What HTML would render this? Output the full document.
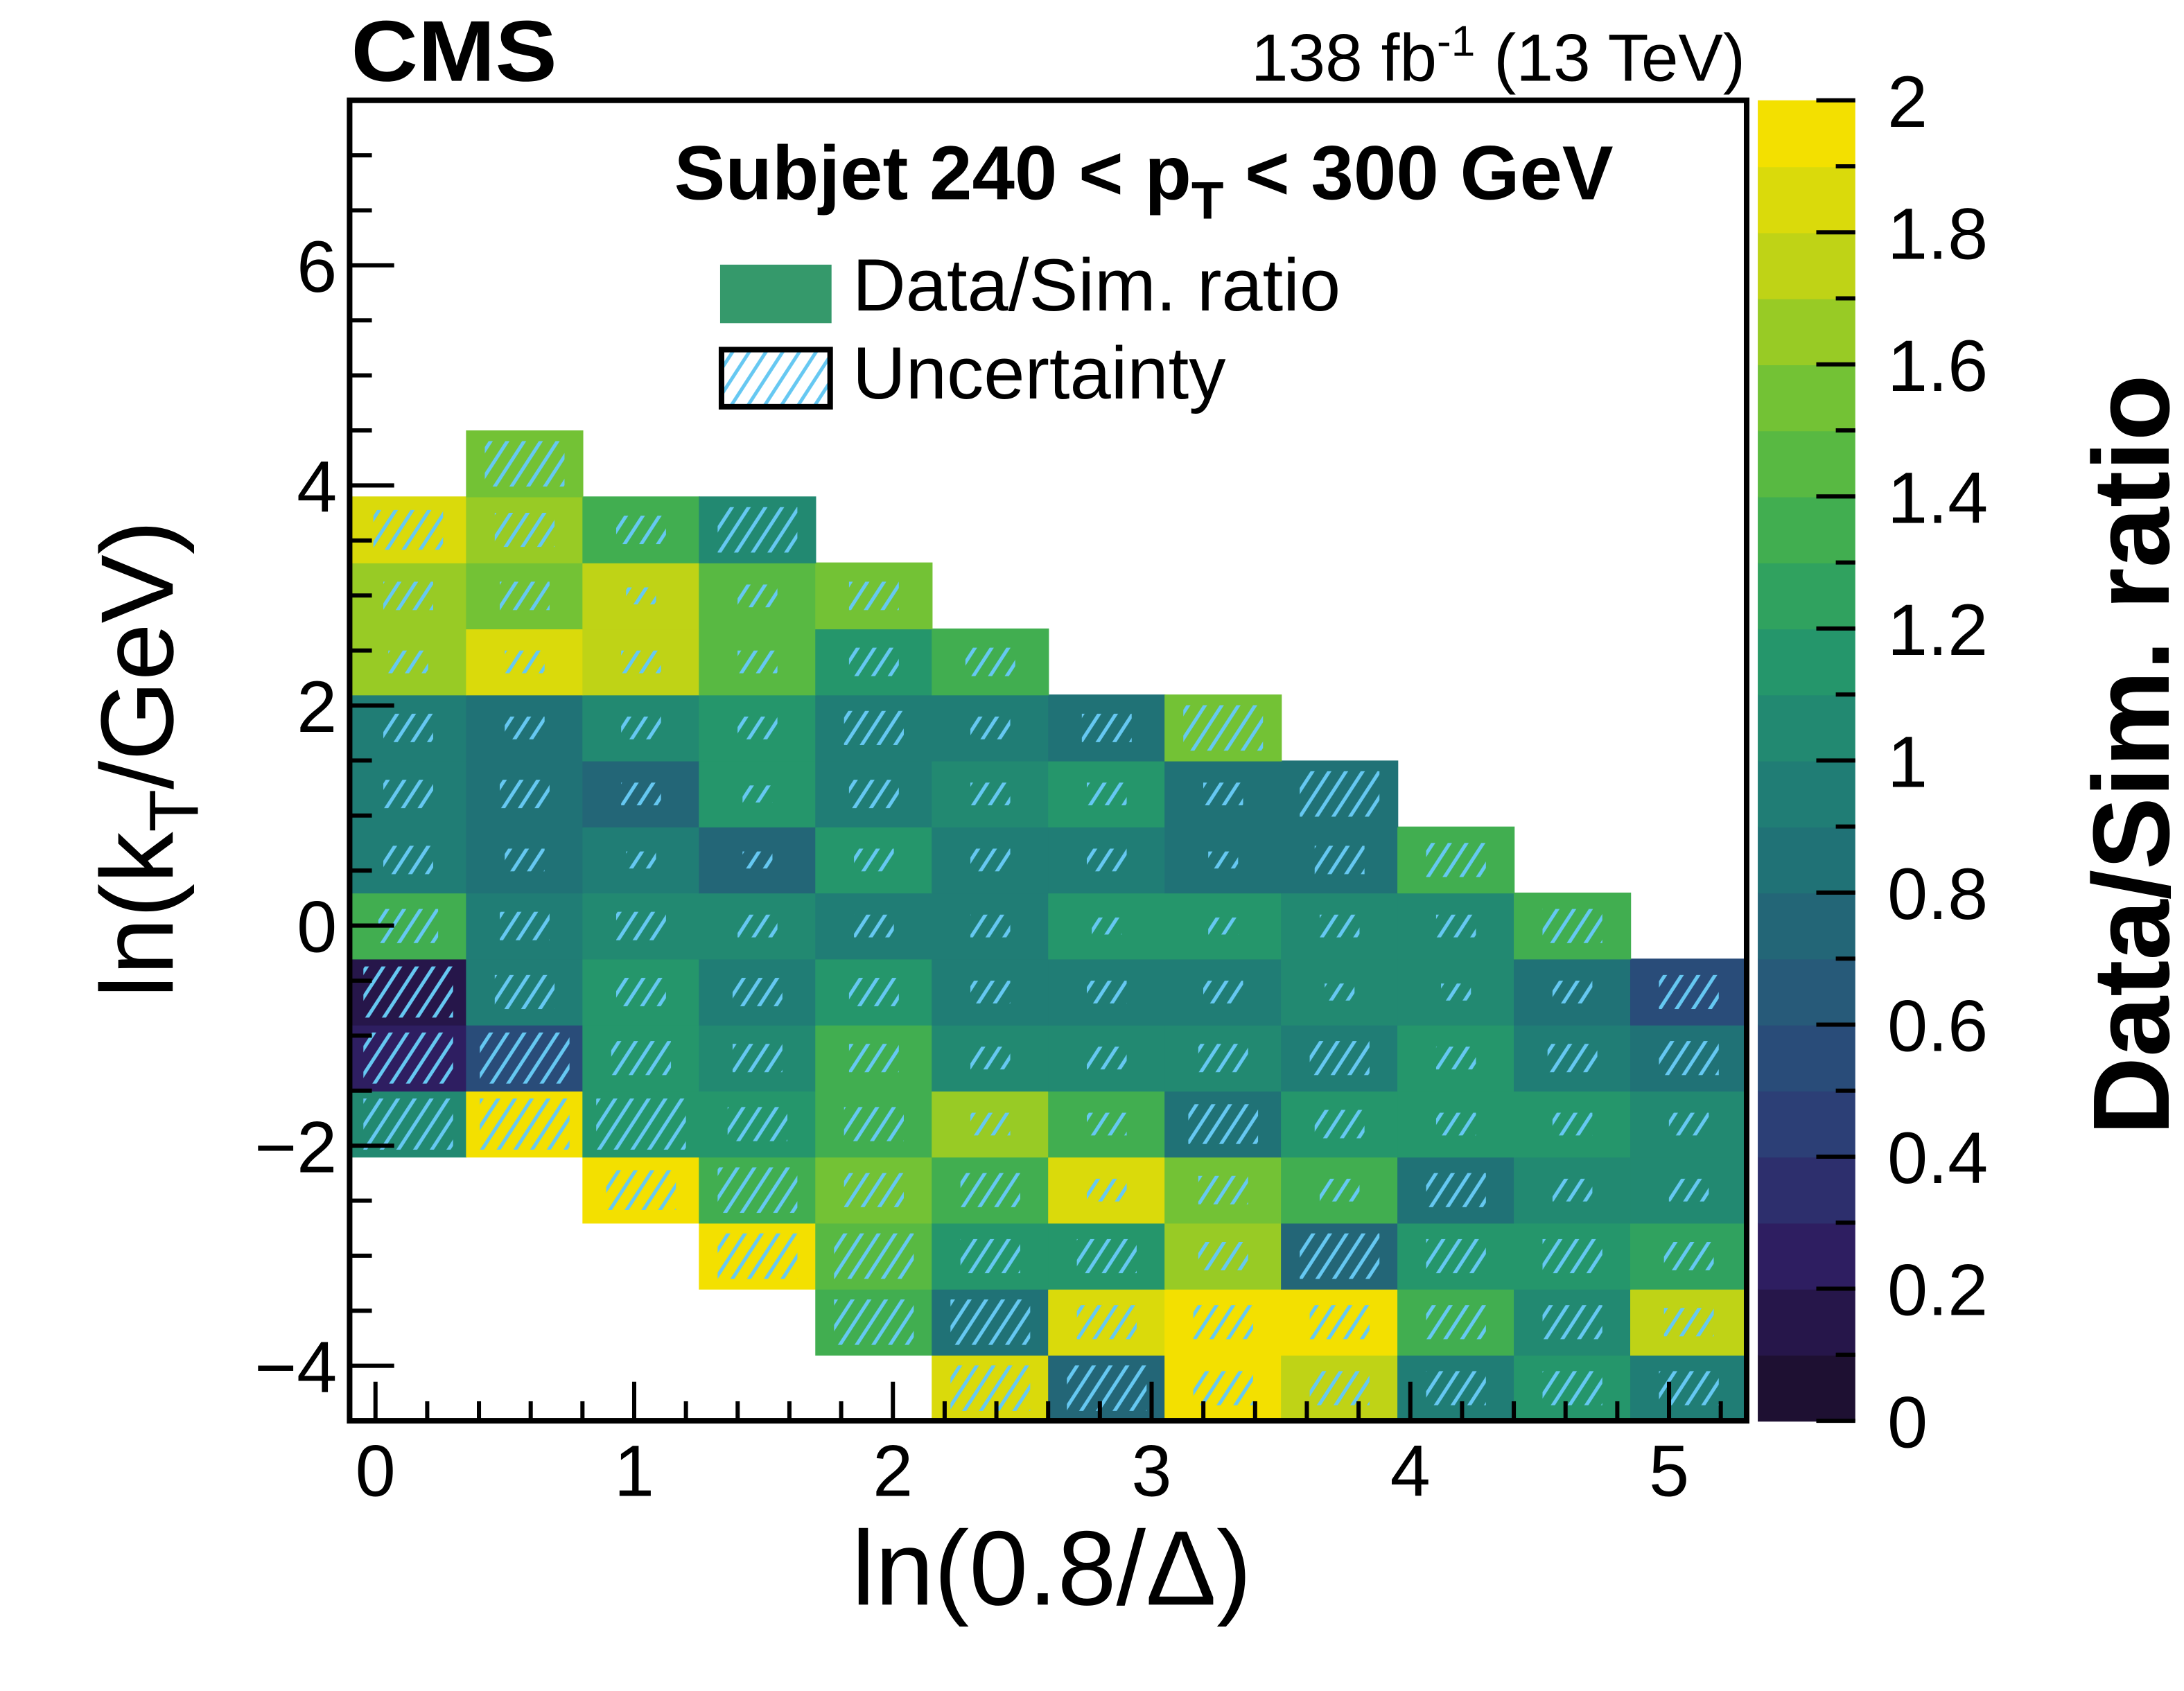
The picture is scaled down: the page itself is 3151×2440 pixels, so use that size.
<!DOCTYPE html>
<html><head><meta charset="utf-8"><style>
html,body{margin:0;padding:0;background:#fff}
svg{display:block}
text{font-family:"Liberation Sans",Arial,sans-serif}
</style></head><body>
<svg id="chart" width="3151" height="2440" viewBox="0 0 1568 1214" preserveAspectRatio="none" xmlns="http://www.w3.org/2000/svg">
<defs>
<pattern id="hatch" patternUnits="userSpaceOnUse" width="12" height="40" patternTransform="skewX(-33)">
<line x1="6" y1="0" x2="6" y2="40" stroke="#66c8f2" stroke-width="3"/>
</pattern>
</defs>
<g id="cells"></g>
<g id="hatches"></g>
<g id="axes"></g>
<rect x="251" y="72" width="1003" height="948" fill="none" stroke="#000" stroke-width="4"/>
<g id="cbar"></g>
<text x="252" y="58" font-size="62" font-weight="bold" textLength="148" lengthAdjust="spacingAndGlyphs">CMS</text>
<text x="1253" y="58" font-size="48" text-anchor="end">138 fb<tspan font-size="31" dy="-18">-1</tspan><tspan dy="18"> (13 TeV)</tspan></text>
<text x="484" y="143" font-size="55" font-weight="bold">Subjet 240 &lt; p<tspan font-size="38" dy="14">T</tspan><tspan dy="-14"> &lt; 300 GeV</tspan></text>
<rect x="517" y="190" width="80" height="42" fill="#35996b"/>
<text x="612" y="223" font-size="53">Data/Sim. ratio</text>
<rect x="518" y="251" width="78" height="41" fill="url(#hatch)" stroke="#000" stroke-width="4"/>
<text x="612" y="286" font-size="53">Uncertainty</text>
<text x="755" y="1152" font-size="76" text-anchor="middle">ln(0.8/Δ)</text>
<text transform="translate(124,545) rotate(-90)" font-size="74" text-anchor="middle">ln(k<tspan font-size="50" dy="18">T</tspan><tspan dy="-18">/GeV)</tspan></text>
<text transform="translate(1557,542) rotate(-90)" font-size="78" font-weight="bold" text-anchor="middle">Data/Sim. ratio</text>
</svg>
<script>
const xEdges0 = -0.1, xBinW = 0.45, nX = 12;
const yEdges0 = -4.5, yBinH = 0.6;
// ratio values per row, bottom row (y -4.5..-3.9) first; null = empty
const row0  = [null,null,null,null,null,1.9,0.75,1.95,1.7,0.9,1.1,0.9];
const row1  = [null,null,null,null,1.4,0.8,1.85,1.95,1.95,1.3,1.0,1.75];
const row2  = [null,null,null,1.95,1.45,1.1,1.2,1.6,0.75,1.2,1.1,1.25];
const row3  = [null,null,1.95,1.3,1.5,1.4,1.8,1.55,1.35,0.85,1.05,1.05];
const row4  = [1.0,1.95,1.2,1.15,1.35,1.6,1.4,0.8,1.2,1.15,1.15,1.0];
const row5  = [0.3,0.6,1.15,1.0,1.4,1.0,1.0,1.0,0.95,1.15,0.95,0.85];
const row6  = [0.1,0.9,1.2,0.9,1.1,0.95,0.95,0.95,1.0,1.0,0.8,0.6];
const row7  = [1.3,0.95,1.0,1.0,0.9,0.9,1.1,1.2,1.0,1.0,1.35,null];
const row8  = [0.9,0.8,0.95,0.75,1.1,0.95,0.9,0.85,0.85,1.35,null,null];
const row9  = [0.9,0.8,0.75,1.15,0.9,1.05,1.1,0.85,0.85,null,null,null];
const row10 = [0.95,0.85,1.0,1.1,0.9,0.95,0.85,1.55,null,null,null,null];
const row11 = [1.65,1.8,1.7,1.45,1.2,1.3,null,null,null,null,null,null];
const row12 = [1.6,1.5,1.7,1.45,1.55,null,null,null,null,null,null,null];
const row13 = [1.85,1.6,1.35,1.05,null,null,null,null,null,null,null,null];
const row14 = [null,1.55,null,null,null,null,null,null,null,null,null,null];
const ratioRows = [row0,row1,row2,row3,row4,row5,row6,row7,row8,row9,row10,row11,row12,row13,row14];
// relative uncertainty (hatch extent) per row, bottom first
const unc0  = [0,0,0,0,0,0.8,0.8,0.6,0.6,0.6,0.6,0.6];
const unc1  = [0,0,0,0,0.8,0.8,0.6,0.6,0.6,0.6,0.6,0.5];
const unc2  = [0,0,0,0.8,0.8,0.6,0.6,0.5,0.8,0.6,0.6,0.5];
const unc3  = [0,0,0.7,0.8,0.6,0.6,0.4,0.5,0.4,0.6,0.4,0.4];
const unc4  = [0.9,0.9,0.9,0.6,0.6,0.4,0.4,0.7,0.5,0.4,0.4,0.4];
const unc5  = [0.9,0.9,0.6,0.5,0.5,0.4,0.4,0.5,0.6,0.4,0.5,0.6];
const unc6  = [0.9,0.6,0.5,0.5,0.5,0.4,0.4,0.4,0.3,0.3,0.4,0.6];
const unc7  = [0.6,0.5,0.5,0.4,0.4,0.4,0.3,0.3,0.4,0.4,0.6,0];
const unc8  = [0.5,0.4,0.3,0.3,0.4,0.4,0.4,0.3,0.5,0.6,0,0];
const unc9  = [0.5,0.5,0.4,0.3,0.5,0.4,0.4,0.4,0.8,0,0,0];
const unc10 = [0.5,0.4,0.4,0.4,0.6,0.4,0.5,0.8,0,0,0,0];
const unc11 = [0.4,0.4,0.4,0.4,0.5,0.5,0,0,0,0,0,0];
const unc12 = [0.5,0.5,0.3,0.4,0.5,0,0,0,0,0,0,0];
const unc13 = [0.7,0.6,0.5,0.8,0,0,0,0,0,0,0,0];
const unc14 = [0,0.8,0,0,0,0,0,0,0,0,0,0];
const uncRows = [unc0,unc1,unc2,unc3,unc4,unc5,unc6,unc7,unc8,unc9,unc10,unc11,unc12,unc13,unc14];
const xTicks = [0,1,2,3,4,5];
const yTicks = [-4,-2,0,2,4,6];
const zTicks = [0,0.2,0.4,0.6,0.8,1,1.2,1.4,1.6,1.8,2];

const NS = "http://www.w3.org/2000/svg";
const X0 = 251, X1 = 1254, Y0 = 72, Y1 = 1020;
const xMin = -0.1, xMax = 5.3, yMin = -4.5, yMax = 7.5;
const sx = v => X0 + (v - xMin) / (xMax - xMin) * (X1 - X0);
const sy = v => Y1 - (v - yMin) / (yMax - yMin) * (Y1 - Y0);
const CB0 = 1020, CB1 = 72;
const sz = v => CB0 - v / 2 * (CB0 - CB1);

const vir = [[30,16,50],[46,28,96],[44,60,118],[40,86,122],[32,110,118],[32,130,116],[38,155,104],[70,178,76],[120,196,50],[195,212,20],[243,224,0]];
function viridis(t){t=Math.max(0,Math.min(1,t));const f=t*(vir.length-1);const i=Math.min(vir.length-2,Math.floor(f));const r=f-i;
 const c=vir[i].map((a,k)=>Math.round(a+(vir[i+1][k]-a)*r));return `rgb(${c[0]},${c[1]},${c[2]})`;}
function colorFor(v){let b=Math.floor(v/0.1);b=Math.max(0,Math.min(19,b));return viridis(b/19);}
function mk(tag,attrs,parent){const e=document.createElementNS(NS,tag);for(const k in attrs)e.setAttribute(k,attrs[k]);parent.appendChild(e);return e;}

const cells=document.getElementById('cells'), hat=document.getElementById('hatches');
ratioRows.forEach((row,j)=>{row.forEach((v,i)=>{ if(v===null) return;
  const xa=xEdges0+i*xBinW, xb=xa+xBinW, ya=yEdges0+j*yBinH, yb=ya+yBinH;
  const x=sx(xa), w=sx(xb)-x+0.6, y=sy(yb), h=sy(ya)-y+0.6;
  const r=mk('rect',{x:x,y:y,width:w,height:h,fill:colorFor(v)},cells);
  
  
  const u=uncRows[j][i]; if(u>0){
    const hw=(w*0.85)*u, hh=(h*0.85)*u;
    const hr=mk('rect',{x:x+(w-hw)/2,y:y+(h-hh)/2,width:hw,height:hh,fill:'url(#hatch)'},hat);
    
    
  }
});});

const ax=document.getElementById('axes');
for(let v=0; v<=5.3; v+=0.2){const major=Math.abs(v-Math.round(v))<1e-6;
  const t=mk('line',{x1:sx(v),x2:sx(v),y1:Y1,y2:Y1-(major?28:14),stroke:'#000','stroke-width':3},ax);
  
  }
xTicks.forEach(v=>{const t=mk('text',{x:sx(v),y:1074,'font-size':52,'text-anchor':'middle'},ax);t.textContent=v;
  
  });
for(let v=-4.5; v<=7.5; v+=0.5){const major=Math.abs(v/2-Math.round(v/2))<1e-6;
  const t=mk('line',{x1:X0,x2:X0+(major?32:16),y1:sy(v),y2:sy(v),stroke:'#000','stroke-width':3},ax);
  
  }
yTicks.forEach(v=>{const t=mk('text',{x:242,y:sy(v)+19,'font-size':52,'text-anchor':'end'},ax);t.textContent=v<0?'\u2212'+(-v):v;
  
  });

const cb=document.getElementById('cbar');
for(let b=0;b<20;b++){const r=mk('rect',{x:1262,y:sz((b+1)*0.1),width:70,height:sz(b*0.1)-sz((b+1)*0.1)+0.6,fill:colorFor(b*0.1+0.05)},cb);
  
  }
for(let b=0;b<=20;b++){const major=b%2===0;
  const t=mk('line',{x1:1332,x2:1332-(major?28:14),y1:sz(b*0.1),y2:sz(b*0.1),stroke:'#000','stroke-width':3},cb);
  
  }
zTicks.forEach(v=>{const t=mk('text',{x:1355,y:sz(v)+19,'font-size':52},cb);t.textContent=v;
  
  });
</script>
</body></html>
